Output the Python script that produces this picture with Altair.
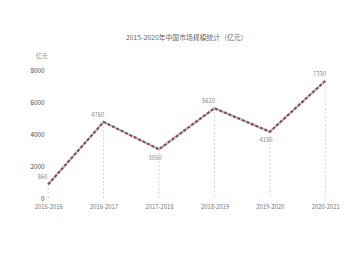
import altair as alt
import pandas as pd

categories = ["2015-2016", "2016-2017", "2017-2018", "2018-2019", "2019-2020", "2020-2021"]
values = [860, 4760, 3050, 5620, 4150, 7330]
label_pos = ["above", "above", "below", "above", "below", "above"]
y_ticks = [0, 2000, 4000, 6000, 8000]
title_text = "2015-2020年中国市场规模统计（亿元）"
y_unit = "亿元"

df = pd.DataFrame({"cat": categories, "val": values, "pos": label_pos})
df["lab"] = df["val"].astype(str)

x = alt.X("cat:N", sort=categories, scale=alt.Scale(type="point", padding=0.02),
          axis=alt.Axis(title=None, labelFontSize=6, labelColor="#777", domain=False,
                        ticks=False, labelPadding=6, labelAngle=0))
y = alt.Y("val:Q", scale=alt.Scale(domain=[0, 8000], nice=False),
          axis=alt.Axis(title=y_unit, titleAngle=0, titleX=-6, titleY=-12, titleFontSize=6,
                        titleColor="#888", titleFontWeight="normal", titleAlign="center",
                        values=y_ticks, format="d", labelFontSize=6.5, labelColor="#444",
                        grid=False, domain=False, ticks=False, labelPadding=3))

base = alt.Chart(df).encode(x=x, y=y)

drops = base.mark_rule(color="#cfcfcf", strokeDash=[2, 2], strokeWidth=1).encode(y2=alt.datum(0))
pink = base.mark_line(color="#eeb0c0", strokeWidth=2.5)
dark = base.mark_line(color="#5a5a5a", strokeWidth=2, strokeDash=[3, 2])
lab_above = alt.Chart(df).transform_filter("datum.pos == 'above'").mark_text(
    fontSize=6, color="#888", dy=-7, dx=-6).encode(x=x, y=y, text="lab:N")
lab_below = alt.Chart(df).transform_filter("datum.pos == 'below'").mark_text(
    fontSize=6, color="#888", dy=9, dx=-4).encode(x=x, y=y, text="lab:N")

chart = alt.layer(drops, pink, dark, lab_above, lab_below).properties(
    width=286, height=131,
    title=alt.TitleParams(title_text, fontSize=7, color="#666", fontWeight="normal",
                          offset=12, anchor="middle", font="Noto Sans CJK SC"),
    autosize=alt.AutoSizeParams(type="none"),
    padding={"left": 40, "top": 61, "right": 16, "bottom": 30},
).configure(font="Noto Sans CJK SC").configure_view(stroke=None, strokeWidth=0)

chart.save("out.html", embed_options={"renderer": "svg", "actions": False})
